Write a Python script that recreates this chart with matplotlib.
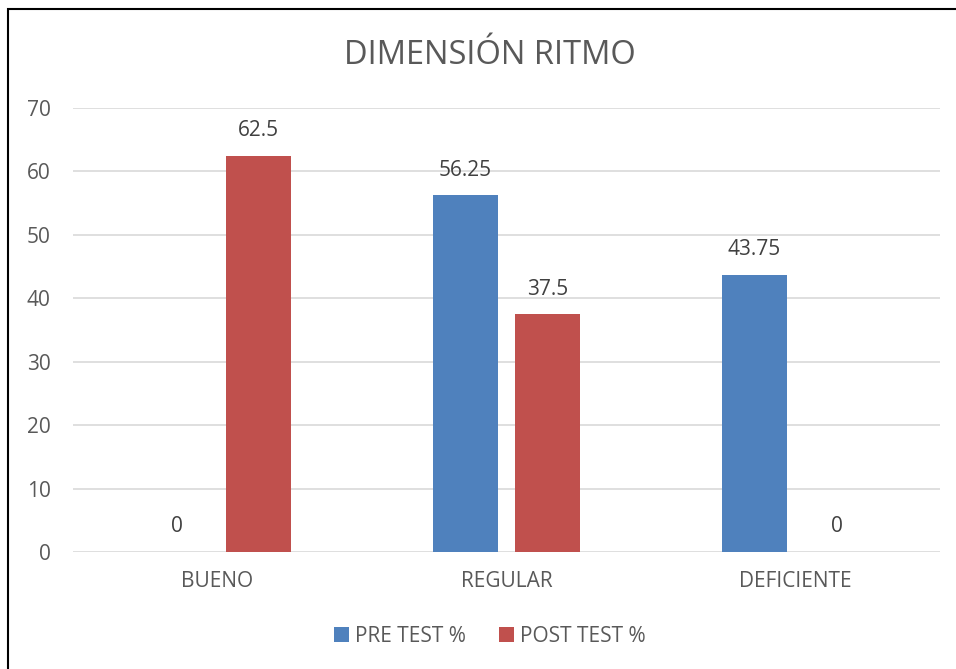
import numpy as np
import matplotlib
matplotlib.use("Agg")
import matplotlib.pyplot as plt
from matplotlib.patches import Rectangle

# data
categories = ["BUENO", "REGULAR", "DEFICIENTE"]
pre_test = [0, 56.25, 43.75]
post_test = [62.5, 37.5, 0]
series_names = ["PRE TEST %", "POST TEST %"]
yticks = [0, 10, 20, 30, 40, 50, 60, 70]

BLUE = "#4F81BD"
RED = "#C0504D"
TEXT = "#595959"

plt.rcParams["font.family"] = ["Open Sans", "DejaVu Sans"]

fig = plt.figure(figsize=(9.56, 6.69), dpi=100)
ax = fig.add_axes([73 / 956, 1 - 552 / 669, (940 - 73) / 956, (552 - 108) / 669])

x = np.arange(len(categories))
width = 0.225
offset = 0.142
bars_pre = ax.bar(x - offset, pre_test, width, color=BLUE, label=series_names[0], zorder=3)
bars_post = ax.bar(x + offset, post_test, width, color=RED, label=series_names[1], zorder=3)

# value labels above each bar
for bars in (bars_pre, bars_post):
    for b in bars:
        h = b.get_height()
        ax.annotate(f"{h:g}", (b.get_x() + b.get_width() / 2, h),
                    xytext=(0, 18), textcoords="offset points",
                    ha="center", va="center", fontsize=15, color="#404040")

ax.set_xlim(-0.5, len(categories) - 0.5)
ax.set_ylim(0, 70)
ax.set_yticks(yticks)
ax.set_xticks(x)
ax.set_xticklabels(categories)
ax.tick_params(axis="both", length=0, labelsize=15, labelcolor=TEXT)
ax.tick_params(axis="x", pad=14)
ax.tick_params(axis="y", pad=16)
ax.grid(axis="y", color="#D9D9D9", linewidth=1.2, zorder=0)
for s in ax.spines.values():
    s.set_visible(False)

fig.text(490 / 956, 1 - 56 / 669, "DIMENSIÓN RITMO", ha="center", va="center",
         fontsize=23.5, color=TEXT)

fig.legend(loc="center", bbox_to_anchor=(490 / 956, 1 - 636 / 669), ncol=2,
           frameon=False, fontsize=15, labelcolor=TEXT,
           handlelength=0.7, handleheight=0.7, handletextpad=0.3, columnspacing=1.6)

# chart border (only left and top edges visible in the reference)
fig.patches.append(Rectangle((8 / 956, -0.05), 1.1, 1 - 9 / 669 + 0.05,
                             transform=fig.transFigure, fill=False,
                             edgecolor="black", linewidth=1.5))

fig.savefig("out.png", dpi=100)
